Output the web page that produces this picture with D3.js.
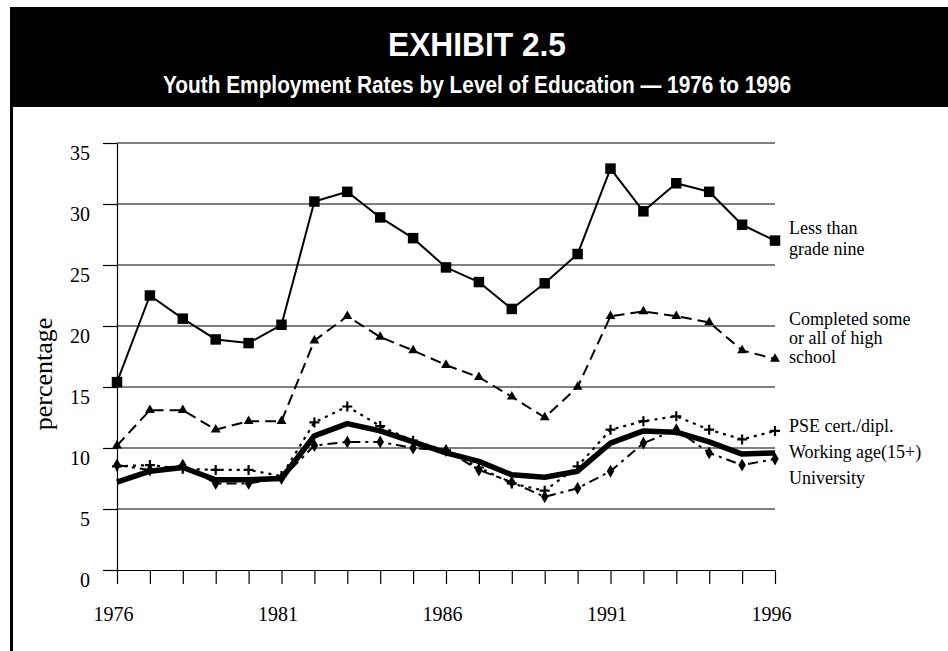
<!DOCTYPE html>
<html>
<head>
<meta charset="utf-8">
<script src="https://cdn.jsdelivr.net/npm/d3@7"></script>
<style>
  html, body { margin: 0; padding: 0; background: #fff; }
  svg { display: block; }
</style>
</head>
<body>
<svg id="chart" width="948" height="651"></svg>
<script>
// ---- data ----
const years = [1976,1977,1978,1979,1980,1981,1982,1983,1984,1985,1986,1987,1988,1989,1990,1991,1992,1993,1994,1995,1996];
const yearLabels = [1976, 1981, 1986, 1991, 1996];
const yTicks = [0, 5, 10, 15, 20, 25, 30, 35];
const lessThanGrade9 = [15.4,22.5,20.6,18.9,18.6,20.1,30.2,31.0,28.9,27.2,24.8,23.6,21.4,23.5,25.9,32.9,29.4,31.7,31.0,28.3,27.0];
const highSchool     = [10.2,13.1,13.1,11.5,12.2,12.2,18.8,20.8,19.1,18.0,16.8,15.8,14.2,12.5,15.0,20.8,21.2,20.8,20.3,18.0,17.3];
const pseCert        = [8.5,8.6,8.3,8.2,8.2,7.7,12.1,13.4,11.8,10.6,9.8,8.4,7.1,6.5,8.5,11.5,12.2,12.6,11.5,10.7,11.4];
const workingAge     = [7.2,8.1,8.4,7.4,7.4,7.5,11.0,12.0,11.4,10.5,9.6,8.9,7.8,7.6,8.1,10.4,11.4,11.3,10.5,9.5,9.6];
const university     = [8.6,8.2,8.6,7.1,7.1,7.5,10.2,10.5,10.5,10.0,9.8,8.2,7.2,6.0,6.7,8.1,10.4,11.5,9.6,8.6,9.1];
const titleText = "EXHIBIT 2.5";
const subtitleText = "Youth Employment Rates by Level of Education \u2014 1976 to 1996";
const yAxisTitle = "percentage";

const svg = d3.select("#chart");
const serif = "'Liberation Serif', 'Times New Roman', serif";
const sans = "'Liberation Sans', Arial, sans-serif";

// ---- header ----
svg.append("rect").attr("x", 10).attr("y", 7).attr("width", 938).attr("height", 100).attr("fill", "#000");
svg.append("text").attr("x", 477).attr("y", 56).attr("text-anchor", "middle")
  .attr("fill", "#fff").attr("font-family", sans).attr("font-weight", "bold").attr("font-size", 33)
  .attr("textLength", 178).attr("lengthAdjust", "spacingAndGlyphs")
  .text(titleText);
svg.append("text").attr("x", 477).attr("y", 93).attr("text-anchor", "middle")
  .attr("fill", "#fff").attr("font-family", sans).attr("font-weight", "bold").attr("font-size", 24)
  .attr("textLength", 628).attr("lengthAdjust", "spacingAndGlyphs")
  .text(subtitleText);
// left border line
svg.append("rect").attr("x", 10).attr("y", 107).attr("width", 3).attr("height", 544).attr("fill", "#000");

// ---- scales ----
const x = d3.scaleLinear().domain([1976, 1996]).range([117, 775]);
const y = d3.scaleLinear().domain([0, 35]).range([570, 143]);

// gridlines
svg.append("g").selectAll("line").data(yTicks.filter(d => d > 0)).join("line")
  .attr("x1", x(1976)).attr("x2", x(1996))
  .attr("y1", d => y(d)).attr("y2", d => y(d))
  .attr("stroke", "#000").attr("stroke-width", 1.2);

// y axis
const yAxis = svg.append("g").attr("transform", `translate(${x(1976)},0)`)
  .call(d3.axisLeft(y).tickValues(yTicks).tickSize(14).tickSizeOuter(0).tickPadding(13));
yAxis.selectAll("line, path").attr("stroke", "#000").attr("stroke-width", 1.2);
yAxis.selectAll("text").attr("font-family", serif).attr("font-size", 20).attr("fill", "#000").attr("dy", "0.8em");

// x axis
const xAxis = svg.append("g").attr("transform", `translate(0,${y(0)})`)
  .call(d3.axisBottom(x).tickValues(years).tickSize(14).tickSizeOuter(0).tickPadding(23)
    .tickFormat(d => yearLabels.includes(d) ? String(d) : ""));
xAxis.selectAll("line, path").attr("stroke", "#000").attr("stroke-width", 1.2);
xAxis.selectAll("text").attr("font-family", serif).attr("font-size", 20).attr("fill", "#000").attr("dx", "-4");

// y axis title
svg.append("text").attr("transform", "translate(52,374) rotate(-90)").attr("text-anchor", "middle")
  .attr("font-family", serif).attr("font-size", 26).attr("fill", "#000").text(yAxisTitle);

// ---- series ----
const line = d3.line().x((d, i) => x(years[i])).y(d => y(d));
function drawLine(values, width, dash) {
  svg.append("path").datum(values).attr("d", line).attr("fill", "none")
    .attr("stroke", "#000").attr("stroke-width", width)
    .attr("stroke-dasharray", dash).attr("stroke-linejoin", "round");
}
function drawMarkers(values, pathFn, fill, stroke) {
  svg.append("g").selectAll("path").data(values).join("path")
    .attr("transform", (d, i) => `translate(${x(years[i])},${y(d)})`)
    .attr("d", pathFn).attr("fill", fill).attr("stroke", stroke).attr("stroke-width", 2.2);
}

// less than grade nine
drawLine(lessThanGrade9, 2, null);
drawMarkers(lessThanGrade9, d3.symbol().type(d3.symbolSquare).size(110)(), "#000", "none");
// high school
drawLine(highSchool, 2, "11,6");
drawMarkers(highSchool, d3.symbol().type(d3.symbolTriangle).size(42)(), "#000", "none");
// PSE
drawLine(pseCert, 2.2, "3,5");
drawMarkers(pseCert, "M-5,0H5M0,-5V5", "none", "#000");
// working age
drawLine(workingAge, 5.5, null);
// university
drawLine(university, 2, "10,5,3,5");
drawMarkers(university, d3.symbol().type(d3.symbolDiamond).size(48)(), "#000", "none");

// ---- direct labels ----
const labels = [
  ["Less than", 234], ["grade nine", 255],
  ["Completed some", 325], ["or all of high", 344], ["school", 363],
  ["PSE cert./dipl.", 432], ["Working age(15+)", 458], ["University", 484]
];
svg.append("g").selectAll("text").data(labels).join("text")
  .attr("x", 789).attr("y", d => d[1])
  .attr("font-family", serif).attr("font-size", 18).attr("fill", "#000")
  .text(d => d[0]);
</script>
</body>
</html>
